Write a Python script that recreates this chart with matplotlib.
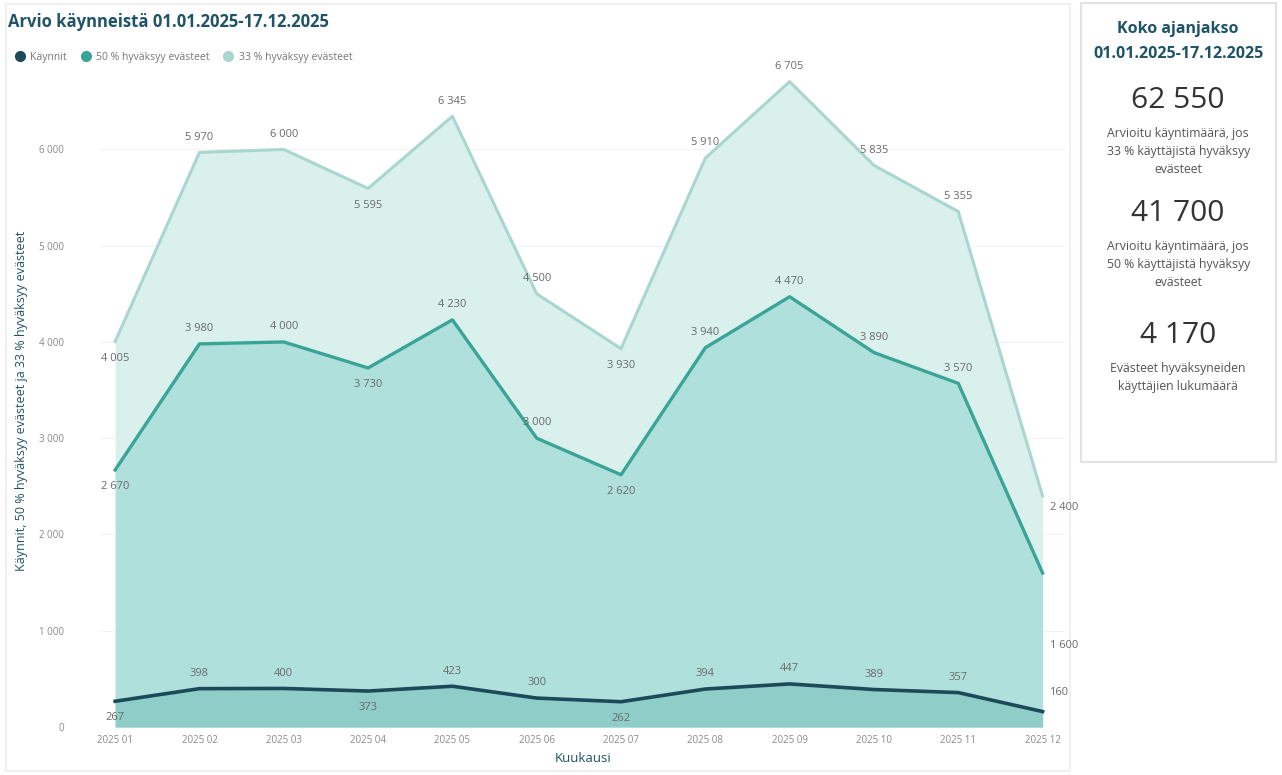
import matplotlib.pyplot as plt
from matplotlib.patches import Rectangle
from matplotlib.lines import Line2D
import numpy as np

plt.rcParams['font.family'] = ['Open Sans', 'DejaVu Sans']

months = ['2025 01', '2025 02', '2025 03', '2025 04', '2025 05', '2025 06',
          '2025 07', '2025 08', '2025 09', '2025 10', '2025 11', '2025 12']
kaynnit = [267, 398, 400, 373, 423, 300, 262, 394, 447, 389, 357, 160]
hyv50 = [2670, 3980, 4000, 3730, 4230, 3000, 2620, 3940, 4470, 3890, 3570, 1600]
hyv33 = [4005, 5970, 6000, 5595, 6345, 4500, 3930, 5910, 6705, 5835, 5355, 2400]

series_names = ['Käynnit', '50 % hyväksyy evästeet', '33 % hyväksyy evästeet']
kpi_values = ['62 550', '41 700', '4 170']
kpi_texts = ['Arvioitu käyntimäärä, jos\n33 % käyttäjistä hyväksyy\nevästeet',
             'Arvioitu käyntimäärä, jos\n50 % käyttäjistä hyväksyy\nevästeet',
             'Evästeet hyväksyneiden\nkäyttäjien lukumäärä']

dark = '#1c4a5a'
title_col = '#1f5366'
gray = '#6a6a6a'

fig = plt.figure(figsize=(12.82, 7.75), dpi=100)
fig.patch.set_facecolor('white')

# chart card border + KPI card
fig.patches.append(Rectangle((0.005, 0.005), 0.83, 0.99, transform=fig.transFigure,
                             fc='none', ec='#eeeeee', lw=1.2, zorder=-1))
fig.patches.append(Rectangle((0.843, 0.404), 0.152, 0.592, transform=fig.transFigure,
                             fc='none', ec='#e2e2e2', lw=1.5, zorder=-1))

ax = fig.add_axes([0.078, 0.062, 0.753, 0.842])
ax.patch.set_alpha(0)
x = np.arange(len(months))

ax.fill_between(x, hyv33, color='#d9f0ec', lw=0, zorder=1)
ax.plot(x, hyv33, color='#a9d6cf', lw=2.2, zorder=2)
ax.fill_between(x, hyv50, color='#b0e0dc', lw=0, zorder=3)
ax.plot(x, hyv50, color='#3aa596', lw=2.4, zorder=4)
ax.fill_between(x, kaynnit, color='#8ecdc8', lw=0, zorder=5)
ax.plot(x, kaynnit, color=dark, lw=2.6, zorder=6)

ax.set_xlim(-0.18, 11.27)
ax.set_ylim(0, 6780)
ax.set_yticks([0, 1000, 2000, 3000, 4000, 5000, 6000])
ax.set_yticklabels(['0', '1 000', '2 000', '3 000', '4 000', '5 000', '6 000'])
ax.set_xticks(x)
ax.set_xticklabels(months)
ax.tick_params(length=0, labelsize=7, labelcolor='#8a8a8a', pad=6)
ax.tick_params(axis='y', pad=26)
for s in ax.spines.values():
    s.set_visible(False)
ax.grid(axis='y', color='#f2f2f2', lw=0.8, zorder=0)
ax.set_axisbelow(True)

ax.set_xlabel('Kuukausi', fontsize=9.5, color=title_col, labelpad=4)
ax.set_ylabel('Käynnit, 50 % hyväksyy evästeet ja 33 % hyväksyy evästeet',
              fontsize=9, color=title_col, labelpad=8)


def label_series(vals, last_dy):
    n = len(vals)
    for i, v in enumerate(vals):
        txt = f'{v:,}'.replace(',', ' ')
        nb = [vals[j] for j in (i - 1, i + 1) if 0 <= j < n]
        if i == n - 1:
            dx, dy, ha, va = 5, last_dy, 'left', 'center'
        elif all(v < b for b in nb):
            dx, dy, ha, va = 0, -8, 'center', 'top'
        else:
            dx, dy, ha, va = 0, 7, 'center', 'bottom'
        ax.annotate(txt, (i, v), xytext=(dx, dy), textcoords='offset points',
                    ha=ha, va=va, fontsize=8, color=gray, zorder=10)


label_series(hyv33, -8)
label_series(hyv50, -52)
label_series(kaynnit, 14)

# title and legend
fig.text(0.006, 0.972, 'Arvio käynneistä 01.01.2025-17.12.2025', fontsize=12,
         fontweight='bold', color=title_col, va='center')
handles = [Line2D([], [], marker='o', ls='', color=c, markersize=7)
           for c in (dark, '#3aa596', '#a9d6cf')]
fig.legend(handles, series_names, loc='center left', bbox_to_anchor=(0.0, 0.926),
           ncol=3, frameon=False, fontsize=7.5, labelcolor='#777777',
           handletextpad=0.0, columnspacing=0.8)

# KPI panel
cx = 0.919
fig.text(cx, 0.962, 'Koko ajanjakso', ha='center', va='center', fontsize=11.5,
         fontweight='bold', color=title_col)
fig.text(cx, 0.930, '01.01.2025-17.12.2025', ha='center', va='center', fontsize=11.5,
         fontweight='bold', color=title_col)
ys = [0.870, 0.724, 0.567]
for y0, val, t in zip(ys, kpi_values, kpi_texts):
    fig.text(cx, y0, val, ha='center', va='center', fontsize=21.5, color='#333333')
    fig.text(cx, y0 - 0.034, t, ha='center', va='top', fontsize=8.8,
             color='#555555', linespacing=1.5)

fig.savefig('out.png', dpi=100)
